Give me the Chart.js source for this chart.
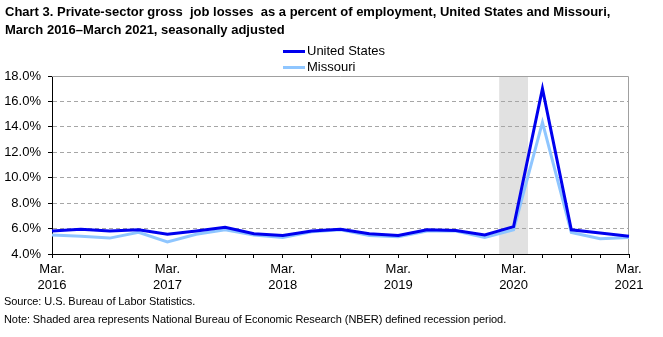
<!DOCTYPE html>
<html>
<head>
<meta charset="utf-8">
<script src="https://cdn.jsdelivr.net/npm/chart.js@4/dist/chart.umd.min.js"></script>
<style>
  body { margin: 0; width: 663px; height: 337px; background: #fff; position: relative; overflow: hidden; }
  #wrap { position: absolute; left: 0; top: 0; width: 663px; height: 337px; }
  #title { position: absolute; left: 5px; top: 3px; font: bold 13px 'Liberation Sans', Arial, sans-serif; line-height: 18px; color: #000; white-space: pre; }
  #legend { position: absolute; left: 283px; top: 43px; font: 13px 'Liberation Sans', Arial, sans-serif; color: #000; line-height: 16px; }
  #legend .item { display: flex; align-items: center; }
  #legend .swatch { width: 22px; height: 3px; margin-right: 2px; }
  #notes { position: absolute; left: 4px; top: 292px; font: 11px 'Liberation Sans', Arial, sans-serif; letter-spacing: -0.08px; line-height: 18px; color: #000; white-space: nowrap; }
</style>
</head>
<body>
<div id="wrap"><canvas id="chart" width="663" height="337"></canvas></div>
<div id="title">Chart 3. Private-sector gross  job losses  as a percent of employment, United States and Missouri,
March 2016–March 2021, seasonally adjusted</div>
<div id="legend"></div>
<div id="notes">Source: U.S. Bureau of Labor Statistics.<br>Note: Shaded area represents National Bureau of Economic Research (NBER) defined recession period.</div>
<script>
// quarterly, March 2016 through March 2021
const quarters = [
  'Mar 2016', 'Jun 2016', 'Sep 2016', 'Dec 2016',
  'Mar 2017', 'Jun 2017', 'Sep 2017', 'Dec 2017',
  'Mar 2018', 'Jun 2018', 'Sep 2018', 'Dec 2018',
  'Mar 2019', 'Jun 2019', 'Sep 2019', 'Dec 2019',
  'Mar 2020', 'Jun 2020', 'Sep 2020', 'Dec 2020',
  'Mar 2021'
]
const unitedStates = [5.8, 5.95, 5.8, 5.9, 5.55, 5.8, 6.1, 5.6, 5.45, 5.8, 5.95, 5.6, 5.45, 5.9, 5.85, 5.5, 6.15, 17.0, 5.9, 5.65, 5.4]
const missouri = [5.5, 5.4, 5.25, 5.7, 4.95, 5.55, 5.9, 5.5, 5.3, 5.75, 5.9, 5.45, 5.35, 5.8, 5.8, 5.3, 5.9, 14.35, 5.7, 5.2, 5.3]
const yTicks = [4, 6, 8, 10, 12, 14, 16, 18]
// recession quarter (NBER), shaded half a quarter either side
const recessionQuarter = 'Mar 2020'

const series = [
  { label: 'United States', data: unitedStates, color: '#0000ee' },
  { label: 'Missouri', data: missouri, color: '#8fc6ff' }
]

const recessionShade = {
  id: 'recessionShade',
  beforeDraw(chart) {
    const { ctx, chartArea, scales } = chart
    const i = quarters.indexOf(recessionQuarter)
    const x0 = scales.x.getPixelForValue(i - 0.5)
    const x1 = scales.x.getPixelForValue(i + 0.5)
    ctx.save()
    ctx.fillStyle = '#e1e1e1'
    ctx.fillRect(x0, chartArea.top, x1 - x0, chartArea.bottom - chartArea.top)
    ctx.restore()
  }
}

// gray frame on top and right of the plot
const plotFrame = {
  id: 'plotFrame',
  beforeDatasetsDraw(chart) {
    const { ctx, chartArea } = chart
    ctx.save()
    ctx.strokeStyle = '#a0a0a0'
    ctx.lineWidth = 1
    ctx.beginPath()
    ctx.moveTo(chartArea.left, chartArea.top + 0.5)
    ctx.lineTo(chartArea.right - 0.5, chartArea.top + 0.5)
    ctx.lineTo(chartArea.right - 0.5, chartArea.bottom)
    ctx.stroke()
    ctx.restore()
  }
}

const font = { family: "'Liberation Sans', Arial, sans-serif", size: 13 }

new Chart(document.getElementById('chart'), {
  type: 'line',
  data: {
    labels: quarters,
    datasets: series.map(s => ({
      label: s.label,
      data: s.data,
      borderColor: s.color,
      backgroundColor: s.color,
      borderWidth: 3,
      pointRadius: 0,
      tension: 0,
      fill: false
    }))
  },
  options: {
    responsive: false,
    animation: false,
    layout: { padding: { left: 0, right: 34, top: 76, bottom: 43 } },
    plugins: {
      legend: { display: false },
      tooltip: { enabled: false }
    },
    scales: {
      x: {
        offset: false,
        afterFit: s => { s.height = 40 },
        border: { color: '#000', width: 1 },
        grid: { drawOnChartArea: false, tickLength: 4, tickColor: '#000', offset: false },
        ticks: {
          autoSkip: false,
          maxRotation: 0,
          padding: 4,
          color: '#000',
          font: font,
          callback: (v, i) => i % 4 === 0 ? quarters[i].split(' ').map((w, k) => k === 0 ? w + '.' : w) : ''
        }
      },
      y: {
        min: 4,
        max: 18,
        afterFit: s => { s.width = 52 },
        afterBuildTicks: s => { s.ticks = yTicks.map(v => ({ value: v })) },
        border: { color: '#000', width: 1, dash: [4, 3] },
        grid: {
          color: c => (c.tick.value === 4 || c.tick.value === 18) ? 'rgba(0,0,0,0)' : '#a6a6a6',
          tickLength: 4,
          tickColor: '#000',
          tickBorderDash: []
        },
        ticks: {
          padding: 7,
          color: '#000',
          font: font,
          callback: v => v.toFixed(1) + '%'
        }
      }
    }
  },
  plugins: [recessionShade, plotFrame]
})

const legend = document.getElementById('legend')
series.forEach(s => {
  const item = document.createElement('div')
  item.className = 'item'
  item.innerHTML = '<span class="swatch" style="background:' + s.color + '"></span>' + s.label
  legend.appendChild(item)
})
</script>
</body>
</html>
